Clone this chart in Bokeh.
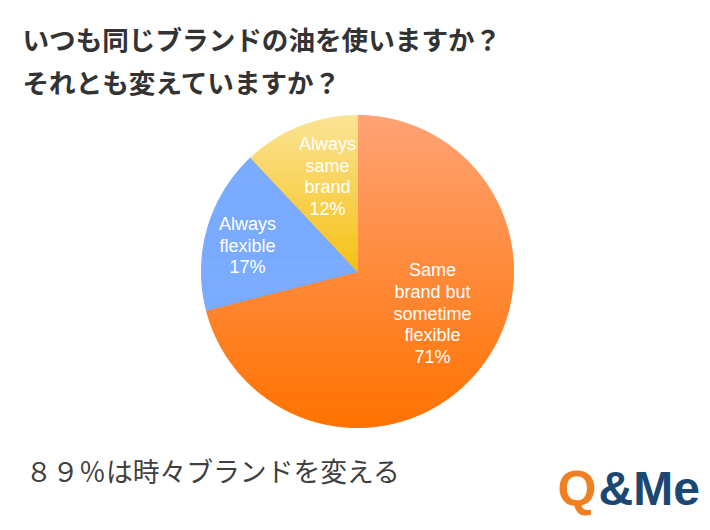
import math
from bokeh.plotting import figure
from bokeh.models import Range1d
from bokeh.core.properties import value
from bokeh.embed import file_html
from bokeh.resources import INLINE

# ---------------- data ----------------
categories = ["Same brand but sometime flexible", "Always flexible", "Always same brand"]
label_lines = [["Same", "brand but", "sometime", "flexible", "71%"],
               ["Always", "flexible", "17%"],
               ["Always", "same", "brand", "12%"]]
shares = [71, 17, 12]
title_lines = ["いつも同じブランドの油を使いますか？", "それとも変えていますか？"]
footnote = "８９％は時々ブランドを変える"

# ---------------- layout / style ----------------
W, H = 710, 530
CX, CY_SCR, R = 357, 271, 156
CY = H - CY_SCR
slice_colors = [("#FFA275", "#FF7200"), ("#7AABFF", "#7AABFF"), ("#FCE496", "#F5C014")]
label_centers_scr = [(432, 313), (247, 245), (327, 176)]
LINE_H = 21.7

p = figure(width=W, height=H, x_range=Range1d(0, W), y_range=Range1d(0, H),
           output_backend="svg", toolbar_location=None, min_border=0,
           outline_line_color=None, background_fill_color="white")
p.axis.visible = False
p.grid.visible = False


def hex2rgb(h):
    h = h.lstrip("#")
    return tuple(int(h[i:i + 2], 16) for i in (0, 2, 4))


def mix(c1, c2, t):
    a, b = hex2rgb(c1), hex2rgb(c2)
    return "#%02x%02x%02x" % tuple(int(round(a[i] + (b[i] - a[i]) * t)) for i in range(3))


def clip_half(pts, yv, keep_above):
    out = []
    n = len(pts)
    for i in range(n):
        P, Q = pts[i], pts[(i + 1) % n]
        inP = (P[1] >= yv) if keep_above else (P[1] <= yv)
        inQ = (Q[1] >= yv) if keep_above else (Q[1] <= yv)
        if inP:
            out.append(P)
        if inP != inQ:
            t = (yv - P[1]) / (Q[1] - P[1])
            out.append((P[0] + t * (Q[0] - P[0]), yv))
    return out


total = sum(shares)
start = 0.0
for k, s in enumerate(shares):
    a0 = start / total * 2 * math.pi
    a1 = (start + s) / total * 2 * math.pi
    start += s
    n = max(8, int(s * 3))
    poly = [(CX, CY)]
    for i in range(n + 1):
        a = a0 + (a1 - a0) * i / n
        poly.append((CX + R * math.sin(a), CY + R * math.cos(a)))
    ys = [q[1] for q in poly]
    ytop, ybot = max(ys), min(ys)
    ctop, cbot = slice_colors[k]
    nb = max(1, int((ytop - ybot) / 2))
    xs_list, ys_list, cols = [], [], []
    for b in range(nb):
        hi = ytop - (ytop - ybot) * b / nb
        lo = ytop - (ytop - ybot) * (b + 1) / nb
        pp = clip_half(clip_half(poly, lo, True), hi, False)
        if len(pp) < 3:
            continue
        xs_list.append([q[0] for q in pp])
        ys_list.append([q[1] for q in pp])
        cols.append(mix(ctop, cbot, (b + 0.5) / nb))
    p.patches(xs_list, ys_list, fill_color=cols, line_color=cols, line_width=1)

for (lx, ly), lines in zip(label_centers_scr, label_lines):
    n = len(lines)
    yc = [H - (ly + (i - (n - 1) / 2) * LINE_H) for i in range(n)]
    p.text(x=[lx] * n, y=yc, text=lines, text_color="white",
           text_font=value("Liberation Sans"), text_font_size="18px",
           text_align="center", text_baseline="middle")

p.text(x=[22, 22], y=[H - 38, H - 81], text=title_lines, text_color="#333333",
       text_font=value("Noto Sans CJK JP"), text_font_style="bold",
       text_font_size="26.6px", text_align="left", text_baseline="middle")

p.text(x=[25], y=[H - 470], text=[footnote], text_color="#404040",
       text_font=value("Noto Sans CJK JP"), text_font_size="26.8px",
       text_align="left", text_baseline="middle")

p.text(x=[557], y=[H - 488], text=["Q"], text_color="#F07F22",
       text_font=value("Liberation Sans"), text_font_style="bold",
       text_font_size="50px", text_align="left", text_baseline="alphabetic")
p.text(x=[598], y=[H - 488], text=["&Me"], text_color="#1B4872",
       text_font=value("Liberation Sans"), text_font_style="bold",
       text_font_size="48px", text_align="left", text_baseline="alphabetic")

open("out.html", "w").write(file_html(p, INLINE))
